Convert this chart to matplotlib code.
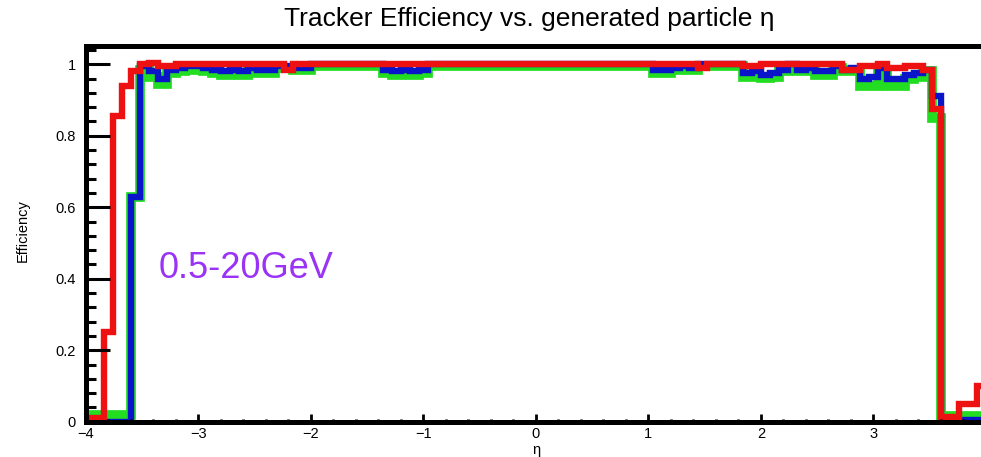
import numpy as np
import matplotlib
matplotlib.use("Agg")
import matplotlib.pyplot as plt
from matplotlib.ticker import MultipleLocator

plt.rcParams['font.family'] = ['Liberation Sans', 'DejaVu Sans']

# 100 bins from -4 to 4
eta_edges = np.linspace(-4, 4, 101)

eff_green = [
    0.02, 0.02, 0.02, 0.02, 0.02, 0.63, 0.985, 0.965, 0.945, 0.975,
    0.98, 0.985, 0.985, 0.98, 0.975, 0.97, 0.975, 0.97, 0.98, 0.975,
    0.975, 0.99, 0.99, 0.985, 0.985, 0.995, 0.995, 0.995, 0.995, 0.995,
    0.995, 0.995, 0.995, 0.975, 0.97, 0.975, 0.97, 0.975, 0.995, 0.995,
    0.995, 0.995, 0.995, 0.995, 0.995, 0.995, 0.995, 0.995, 0.995, 0.995,
    0.995, 0.995, 0.995, 0.995, 0.995, 0.995, 0.995, 0.995, 0.995, 0.995,
    0.995, 0.995, 0.995, 0.975, 0.975, 0.985, 0.99, 0.985, 0.995, 0.995,
    0.995, 0.995, 0.995, 0.965, 0.965, 0.962, 0.965, 0.98, 0.995, 0.98,
    0.985, 0.97, 0.97, 0.99, 0.98, 0.985, 0.94, 0.94, 0.985, 0.94,
    0.94, 0.96, 0.965, 0.98, 0.85, 0.015, 0.015, 0.015, 0.015, 0.015,
]

eff_blue = [
    0.0, 0.0, 0.0, 0.0, 0.0, 0.63, 0.995, 0.98, 0.96, 0.985,
    0.99, 0.995, 0.995, 0.99, 0.985, 0.98, 0.985, 0.98, 0.99, 0.985,
    0.985, 0.995, 0.995, 0.99, 0.99, 1.0, 1.0, 1.0, 1.0, 1.0,
    1.0, 1.0, 1.0, 0.985, 0.98, 0.985, 0.98, 0.985, 1.0, 1.0,
    1.0, 1.0, 1.0, 1.0, 1.0, 1.0, 1.0, 1.0, 1.0, 1.0,
    1.0, 1.0, 1.0, 1.0, 1.0, 1.0, 1.0, 1.0, 1.0, 1.0,
    1.0, 1.0, 1.0, 0.985, 0.985, 0.99, 0.995, 0.99, 1.0, 1.0,
    1.0, 1.0, 1.0, 0.975, 0.98, 0.97, 0.975, 0.985, 1.0, 0.985,
    0.99, 0.98, 0.98, 0.995, 0.985, 0.99, 0.96, 0.965, 0.99, 0.96,
    0.96, 0.97, 0.975, 0.985, 0.91, 0.005, 0.005, 0.005, 0.005, 0.005,
]

eff_red = [
    0.01, 0.01, 0.25, 0.855, 0.94, 0.98, 1.0, 1.005, 0.995, 0.995,
    1.0, 1.0, 1.0, 1.0, 1.0, 1.0, 1.0, 1.0, 1.0, 1.0,
    1.0, 1.0, 0.985, 1.0, 1.0, 1.0, 1.0, 1.0, 1.0, 1.0,
    1.0, 1.0, 1.0, 1.0, 1.0, 1.0, 1.0, 1.0, 1.0, 1.0,
    1.0, 1.0, 1.0, 1.0, 1.0, 1.0, 1.0, 1.0, 1.0, 1.0,
    1.0, 1.0, 1.0, 1.0, 1.0, 1.0, 1.0, 1.0, 1.0, 1.0,
    1.0, 1.0, 1.0, 1.0, 1.0, 1.0, 1.0, 1.0, 0.99, 1.0,
    1.0, 1.0, 1.0, 0.995, 0.995, 1.0, 1.0, 1.0, 1.0, 1.0,
    1.0, 1.0, 1.0, 1.0, 0.985, 0.985, 0.995, 0.995, 1.0, 0.99,
    0.99, 0.995, 0.995, 0.985, 0.875, 0.013, 0.013, 0.05, 0.05, 0.10,
]

fig = plt.figure(figsize=(9.81, 4.57), dpi=100)
ax = fig.add_axes([0.0875, 0.0772, 0.9174, 0.8212])

for vals, col, lw in [(eff_green, '#22dd22', 7.0),
                      (eff_blue, '#0a14c8', 4.6),
                      (eff_red, '#ee1111', 4.6)]:
    st = ax.stairs(vals, eta_edges, baseline=None, color=col, linewidth=lw)
    st.set_joinstyle('miter')
    st.set_capstyle('butt')

ax.set_xlim(-4, 4)
ax.set_ylim(0, 1.05)

for side in ['left', 'bottom', 'top', 'right']:
    ax.spines[side].set_linewidth(3.6)

ax.xaxis.set_major_locator(MultipleLocator(1))
ax.xaxis.set_minor_locator(MultipleLocator(0.2))
ax.yaxis.set_major_locator(MultipleLocator(0.2))
ax.yaxis.set_minor_locator(MultipleLocator(0.04))
ax.set_yticks([0, 0.2, 0.4, 0.6, 0.8, 1.0])
ax.set_yticklabels(['0', '0.2', '0.4', '0.6', '0.8', '1'])

ax.tick_params(axis='y', which='major', direction='in', length=17, width=2.2,
               labelsize=10.5, pad=7)
ax.tick_params(axis='y', which='minor', direction='in', length=7, width=2.2)
ax.tick_params(axis='x', which='major', direction='in', length=6, width=2,
               labelsize=10.5, pad=4)
ax.tick_params(axis='x', which='minor', direction='in', length=2.5, width=2)

ax.set_xlabel('η', fontsize=10.5, labelpad=1)
ax.set_ylabel('Efficiency', fontsize=10.5)
ax.yaxis.set_label_coords(-0.062, 0.51)

fig.text(0.54, 0.958, 'Tracker Efficiency vs. generated particle η',
         ha='center', va='center', fontsize=19)

ax.text(-3.35, 0.43, '0.5-20GeV', color='#9a33f5', fontsize=26,
        ha='left', va='center')

fig.savefig('out.png', dpi=100)
